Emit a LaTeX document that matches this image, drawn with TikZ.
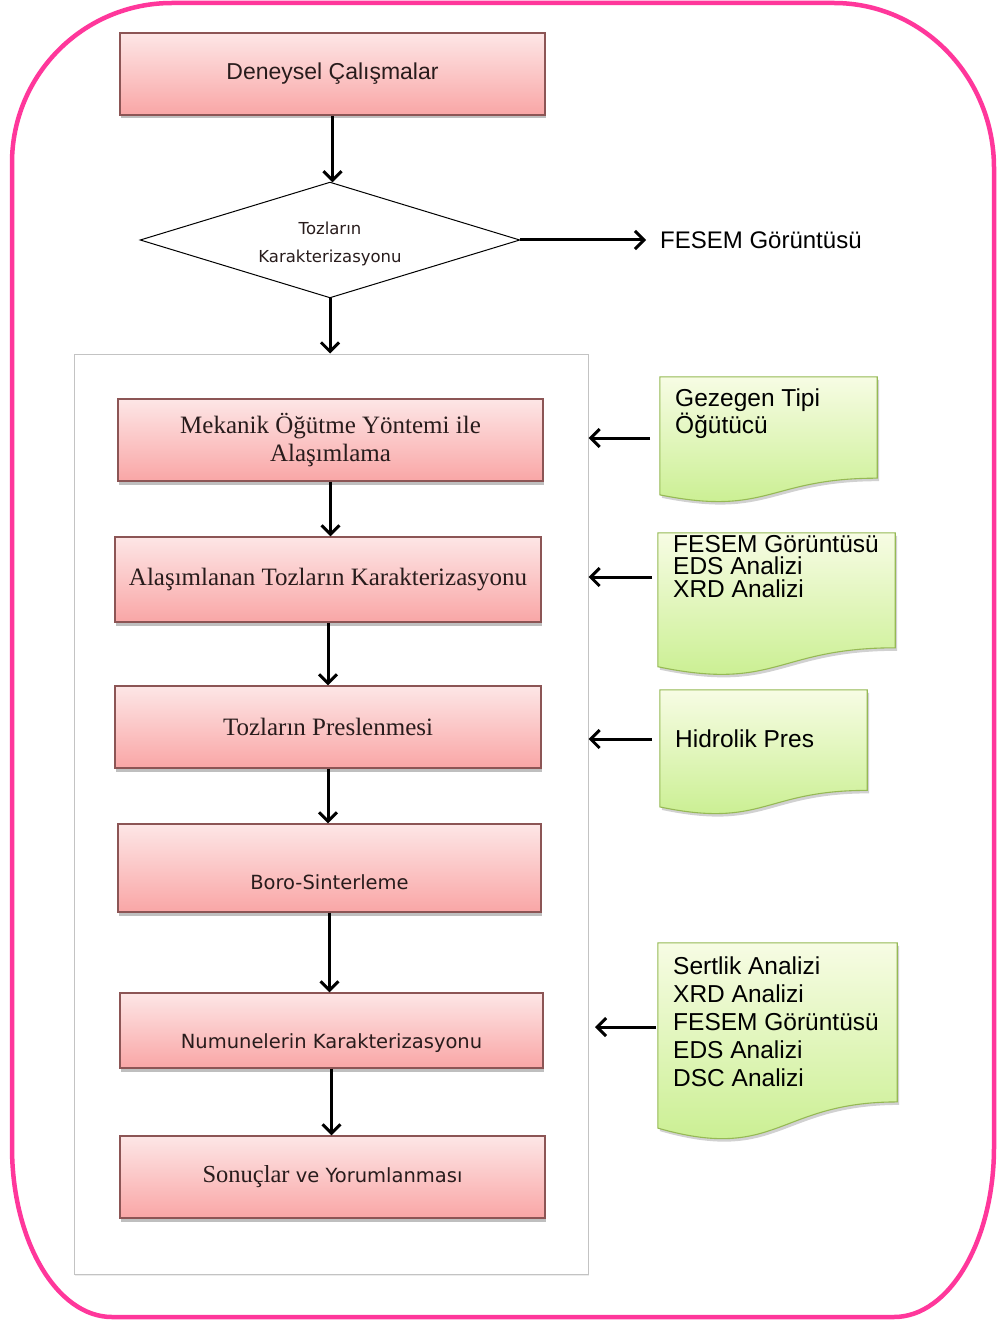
\documentclass[tikz,border=0pt]{standalone}
\usepackage{fontspec}
\setmainfont{Liberation Serif}
\newfontfamily\arialf{Liberation Sans}
\newfontfamily\tahf{DejaVu Sans}
\usetikzlibrary{arrows.meta,shadows,calc}
\definecolor{boxtop}{RGB}{253,230,230}
\definecolor{boxbot}{RGB}{249,166,166}
\definecolor{boxborder}{RGB}{140,85,85}
\definecolor{doctop}{RGB}{247,252,228}
\definecolor{docbot}{RGB}{198,238,138}
\definecolor{docborder}{RGB}{150,185,85}
\definecolor{pinkframe}{RGB}{255,55,155}
\definecolor{contgray}{RGB}{195,195,195}
\definecolor{txt}{RGB}{40,28,28}
\newcommand\drawdoc[1]{%
  \fill[black,opacity=0.18,transform canvas={shift={(2pt,-3pt)}}] (#1.north west) -- (#1.north east) -- ($(#1.north east)!0.802!(#1.south east)$) .. controls ($(#1.north)!0.802!(#1.south)$) and ($(#1.north)!1.107!(#1.south)$) .. ($(#1.north west)!0.934!(#1.south west)$) -- cycle;
  \path[draw=docborder,line width=1.1pt,top color=doctop,bottom color=docbot] (#1.north west) -- (#1.north east) -- ($(#1.north east)!0.802!(#1.south east)$) .. controls ($(#1.north)!0.802!(#1.south)$) and ($(#1.north)!1.107!(#1.south)$) .. ($(#1.north west)!0.934!(#1.south west)$) -- cycle;}
\begin{document}
\begin{tikzpicture}[x=1pt,y=-1pt,
  pbox/.style={draw=boxborder,line width=1.1pt,top color=boxtop,bottom color=boxbot,inner sep=0pt,text=txt,
    drop shadow={opacity=0.5,shadow xshift=1pt,shadow yshift=-3.5pt}},
  serift/.style={font=\fontsize{25}{28}\selectfont,align=center},
  tahomat/.style={font=\tahf\fontsize{19.5}{24}\selectfont,text=txt},
  docbox/.style={inner sep=0pt},
  doctext/.style={anchor=north west,inner sep=0pt,align=left,text=black},
  arr/.style={line width=3pt,-{Straight Barb[length=9pt,width=18pt]}}]
\useasboundingbox[fill=white] (0,0) rectangle (996,1321);
% outer frame
\draw[pinkframe,line width=4.5pt] (12,163) .. controls (12,74.6) and (83.6,3) .. (172,3) -- (834,3)
  .. controls (922.4,3) and (994,76.9) .. (994,168) -- (994,1147)
  .. controls (994,1240.9) and (949.2,1317) .. (894,1317) -- (112,1317)
  .. controls (56.8,1317) and (12,1240.9) .. (12,1147) -- cycle;
% container
\node[draw=contgray,line width=1pt,fill=white,minimum width=514pt,minimum height=920pt,inner sep=0pt,
  drop shadow={opacity=0.15,shadow xshift=1pt,shadow yshift=-2pt}] (cont) at (331,814) {};
% top box
\node[pbox,minimum width=425pt,minimum height=82pt,font=\arialf\fontsize{23}{26}\selectfont] (t0) at (332.5,74) {Deneysel Çalışmalar};
% diamond
\node[inner sep=0pt,minimum width=379pt,minimum height=115pt] (dia) at (330,240) {};
\draw[black,line width=1pt,fill=white] (dia.north) -- (dia.east) -- (dia.south) -- (dia.west) -- cycle;
\node[font=\tahf\fontsize{16.5}{28}\selectfont,align=center,text=txt] (diat) at ([yshift=-4pt]dia.center) {Tozların\\Karakterizasyonu};
\node[anchor=west,inner sep=0pt,font=\arialf\fontsize{24}{28}\selectfont,text=black] (fesem) at (660,240) {FESEM Görüntüsü};
% process boxes
\node[pbox,minimum width=425pt,minimum height=82pt,serift] (A) at (330.5,440) {Mekanik Öğütme Yöntemi ile\\Alaşımlama};
\node[pbox,minimum width=426pt,minimum height=85pt,serift] (B) at (328,579.5) {Alaşımlanan Tozların Karakterizasyonu};
\node[pbox,minimum width=426pt,minimum height=82pt,serift] (C) at (328,727) {Tozların Preslenmesi};
\node[pbox,minimum width=423pt,minimum height=88pt] (D) at (329.5,868) {};
\node[tahomat] (Dt) at ([yshift=-14pt]D.center) {Boro-Sinterleme};
\node[pbox,minimum width=423pt,minimum height=75pt] (E) at (331.5,1030.5) {};
\node[tahomat] (Et) at ([yshift=-13pt]E.center) {Numunelerin Karakterizasyonu};
\node[pbox,minimum width=425pt,minimum height=82pt] (F) at (332.5,1177) {};
\node[text=txt] (Ft) at (F.center) {{\fontsize{24.5}{28}\selectfont Sonuçlar}{\tahf\fontsize{19.5}{24}\selectfont{} ve Yorumlanması}};
% main arrows
\draw[arr] (t0.south) -- (t0.south |- dia.north);
\draw[arr] (dia.east) -- ([xshift=-14pt]fesem.west);
\draw[arr] (dia.south) -- (dia.south |- cont.north);
\draw[arr] (A.south) -- (A.south |- B.north);
\draw[arr] (B.south) -- (B.south |- C.north);
\draw[arr] (C.south) -- (C.south |- D.north);
\draw[arr] (D.south) -- (D.south |- E.north);
\draw[arr] (E.south) -- (E.south |- F.north);
% documents
\node[docbox,minimum width=217pt,minimum height=126pt] (d1) at (768.5,440) {};
\node[docbox,minimum width=237pt,minimum height=143pt] (d2) at (776.5,604.5) {};
\node[docbox,minimum width=207pt,minimum height=125pt] (d3) at (763.5,752.5) {};
\node[docbox,minimum width=239pt,minimum height=198pt] (d4) at (777.5,1042) {};
\drawdoc{d1}
\drawdoc{d2}
\drawdoc{d3}
\drawdoc{d4}
\node[doctext,font=\arialf\fontsize{24.5}{27}\selectfont] (d1t) at (675,389) {Gezegen Tipi\\Öğütücü};
\node[doctext,font=\arialf\fontsize{24.5}{22.5}\selectfont] (d2t) at (673,535) {FESEM Görüntüsü\\EDS Analizi\\XRD Analizi};
\node[doctext,font=\arialf\fontsize{24.5}{27}\selectfont] (d3t) at (675,730) {Hidrolik Pres};
\node[doctext,font=\arialf\fontsize{24.5}{28}\selectfont] (d4t) at (673,957) {Sertlik Analizi\\XRD Analizi\\FESEM Görüntüsü\\EDS Analizi\\DSC Analizi};
% side arrows
\coordinate (s1) at (650,438);
\coordinate (s2) at (652,577);
\coordinate (s3) at (652,739);
\coordinate (s4) at (656,1027);
\coordinate (e4) at (595,1027);
\draw[arr] (s1) -- (cont.east |- s1);
\draw[arr] (s2) -- (cont.east |- s2);
\draw[arr] (s3) -- (cont.east |- s3);
\draw[arr] (s4) -- (e4);
\end{tikzpicture}
\end{document}
